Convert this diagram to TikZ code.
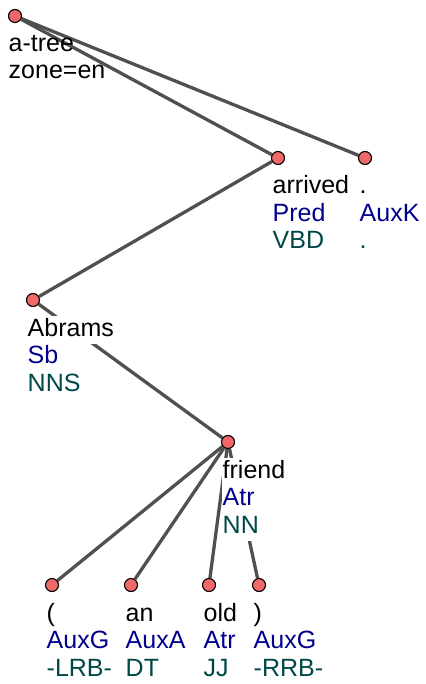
\documentclass[tikz,border=0pt]{standalone}
\usepackage{fontspec}
\setmainfont{Liberation Sans}
\usetikzlibrary{backgrounds}
\definecolor{dotred}{HTML}{F06868}
\definecolor{edgegray}{HTML}{505050}
\definecolor{afunblue}{HTML}{00008B}
\definecolor{tagteal}{HTML}{004848}
\begin{document}
\begin{tikzpicture}[x=1pt, y=-1pt,
    dot/.style={circle, draw=black, line width=1.1pt, fill=dotred, minimum size=13pt, inner sep=0pt},
    edge/.style={draw=edgegray, line width=3.3pt},
    row/.style={anchor=base west, inner xsep=1pt, inner ysep=0pt, text height=20pt, text depth=7.5pt,
                fill=white, font=\fontsize{25}{27.5}\selectfont, execute at end node={\hspace*{4pt}}},
    form/.style={row, text=black},
    afun/.style={row, text=afunblue},
    tag/.style={row, text=tagteal}]
    \useasboundingbox (0,0) rectangle (425,684);

    % tree nodes
    \node[dot] (root) at (15,16) {};
    \node[dot] (arrived) at (278,158) {};
    \node[dot] (period) at (365,158) {};
    \node[dot] (abrams) at (33,300) {};
    \node[dot] (friend) at (228,442) {};
    \node[dot] (lrb) at (52,585) {};
    \node[dot] (an) at (131,585) {};
    \node[dot] (old) at (209,585) {};
    \node[dot] (rrb) at (259,585) {};

    % edges
    \begin{pgfonlayer}{background}
        \draw[edge] (root) -- (arrived);
        \draw[edge] (root) -- (period);
        \draw[edge] (arrived) -- (abrams);
        \draw[edge] (abrams) -- (friend);
        \draw[edge] (friend) -- (lrb);
        \draw[edge] (friend) -- (an);
        \draw[edge] (friend) -- (old);
        \draw[edge] (friend) -- (rrb);
    \end{pgfonlayer}

    % labels
    \node[form, fill=none] (root-f) at (7.5,52) {a-tree};
    \node[form, fill=none] (root-z) at (7.5,78.5) {zone=en};

    \node[form] (arrived-f) at (271.5,194) {arrived};
    \node[afun] (arrived-a) at (271.5,221.5) {Pred};
    \node[tag] (arrived-t) at (271.5,249) {VBD};

    \node[form] (period-f) at (358.5,194) {.};
    \node[afun] (period-a) at (358.5,221.5) {AuxK};
    \node[tag] (period-t) at (358.5,249) {.};

    \node[form] (abrams-f) at (26.5,336) {Abrams};
    \node[afun] (abrams-a) at (26.5,363.5) {Sb};
    \node[tag] (abrams-t) at (26.5,391) {NNS};

    \node[form] (friend-f) at (221.5,478) {friend};
    \node[afun] (friend-a) at (221.5,505.5) {Atr};
    \node[tag] (friend-t) at (221.5,533) {NN};

    \node[form] (lrb-f) at (45.5,621) {(};
    \node[afun] (lrb-a) at (45.5,648.5) {AuxG};
    \node[tag] (lrb-t) at (45.5,676) {-LRB-};

    \node[form] (an-f) at (124.5,621) {an};
    \node[afun] (an-a) at (124.5,648.5) {AuxA};
    \node[tag] (an-t) at (124.5,676) {DT};

    \node[form] (old-f) at (202.5,621) {old};
    \node[afun] (old-a) at (202.5,648.5) {Atr};
    \node[tag] (old-t) at (202.5,676) {JJ};

    \node[form] (rrb-f) at (252.5,621) {)};
    \node[afun] (rrb-a) at (252.5,648.5) {AuxG};
    \node[tag] (rrb-t) at (252.5,676) {-RRB-};
\end{tikzpicture}
\end{document}
